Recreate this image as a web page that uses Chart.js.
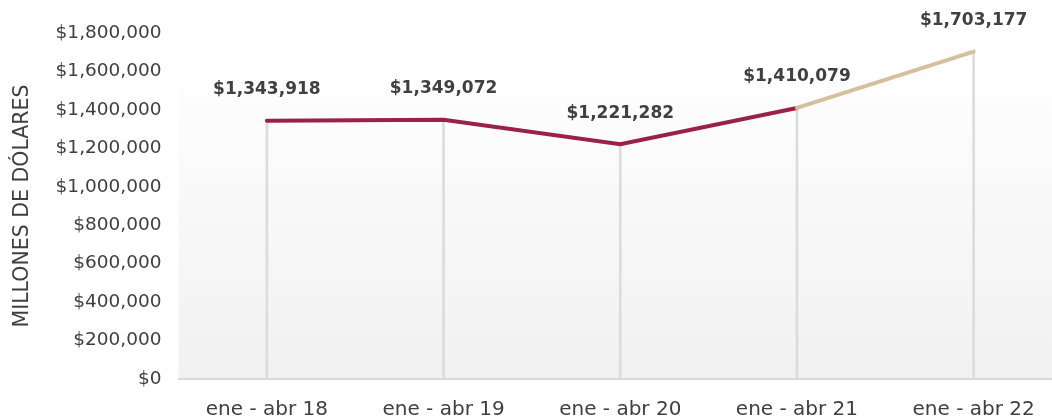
<!DOCTYPE html>
<html>
<head>
<meta charset="utf-8">
<script src="https://cdn.jsdelivr.net/npm/chart.js@4"></script>
<style>
  html, body { margin: 0; padding: 0; background: #ffffff; overflow: hidden; }
  #wrap { width: 1062px; height: 416px; position: relative; }
</style>
</head>
<body>
<div id="wrap"><canvas id="c" width="1062" height="416"></canvas></div>
<script>
const categories = ["ene - abr 18", "ene - abr 19", "ene - abr 20", "ene - abr 21", "ene - abr 22"];
const values = [1343918, 1349072, 1221282, 1410079, 1703177];
const yTickStep = 200000;
const yMax = 1800000;
const yTitle = "MILLONES DE DÓLARES";

const FONT = "'DejaVu Sans', sans-serif";
const fmt = v => "$" + v.toLocaleString("en-US");

const bgPlugin = {
  id: "bgGrad",
  beforeDraw(chart) {
    const { ctx, chartArea: a } = chart;
    const g = ctx.createLinearGradient(0, a.top, 0, a.bottom);
    g.addColorStop(0, "#ffffff");
    g.addColorStop(0.13, "#fefefe");
    g.addColorStop(1, "#f1f1f1");
    ctx.save();
    ctx.fillStyle = g;
    ctx.fillRect(a.left, a.top, a.right - a.left, a.bottom - a.top);
    ctx.restore();
  }
};

const labelPlugin = {
  id: "valLabels",
  afterDatasetsDraw(chart) {
    const meta = chart.getDatasetMeta(1);
    const ctx = chart.ctx;
    ctx.save();
    ctx.font = "bold 17px " + FONT;
    ctx.fillStyle = "#404040";
    ctx.textAlign = "center";
    ctx.textBaseline = "middle";
    meta.data.forEach((pt, i) => {
      ctx.fillText(fmt(values[i]), pt.x, pt.y - 31);
    });
    ctx.restore();
  }
};

new Chart(document.getElementById("c"), {
  data: {
    labels: categories,
    datasets: [
      {
        type: "bar",
        data: values,
        backgroundColor: "#dcdcdc",
        barThickness: 2,
        order: 2
      },
      {
        type: "line",
        data: values,
        borderWidth: 4,
        borderCapStyle: "round",
        borderColor: "#9b2247",
        segment: {
          borderColor: c => c.p0DataIndex === 3 ? "#d4c19c" : "#9b2247"
        },
        pointRadius: 0,
        tension: 0,
        order: 1
      }
    ]
  },
  options: {
    responsive: false,
    animation: false,
    layout: { padding: { top: 33, left: 10, right: 0, bottom: -25 } },
    plugins: { legend: { display: false }, tooltip: { enabled: false } },
    scales: {
      x: {
        offset: true,
        grid: { display: false, drawTicks: false },
        border: { display: true, color: "#d9d9d9", width: 2 },
        ticks: { color: "#404040", font: { family: FONT, size: 20 }, padding: 19, maxRotation: 0 }
      },
      y: {
        min: 0, max: yMax,
        grid: { display: false, drawTicks: false },
        border: { display: false },
        ticks: { stepSize: yTickStep, color: "#404040", font: { family: FONT, size: 18.5 }, padding: 17, callback: v => fmt(v) },
        title: { display: true, text: yTitle, color: "#404040", font: { family: FONT, size: 20.5 }, padding: { top: 0, bottom: 4 } }
      }
    }
  },
  plugins: [bgPlugin, labelPlugin]
});
</script>
</body>
</html>
